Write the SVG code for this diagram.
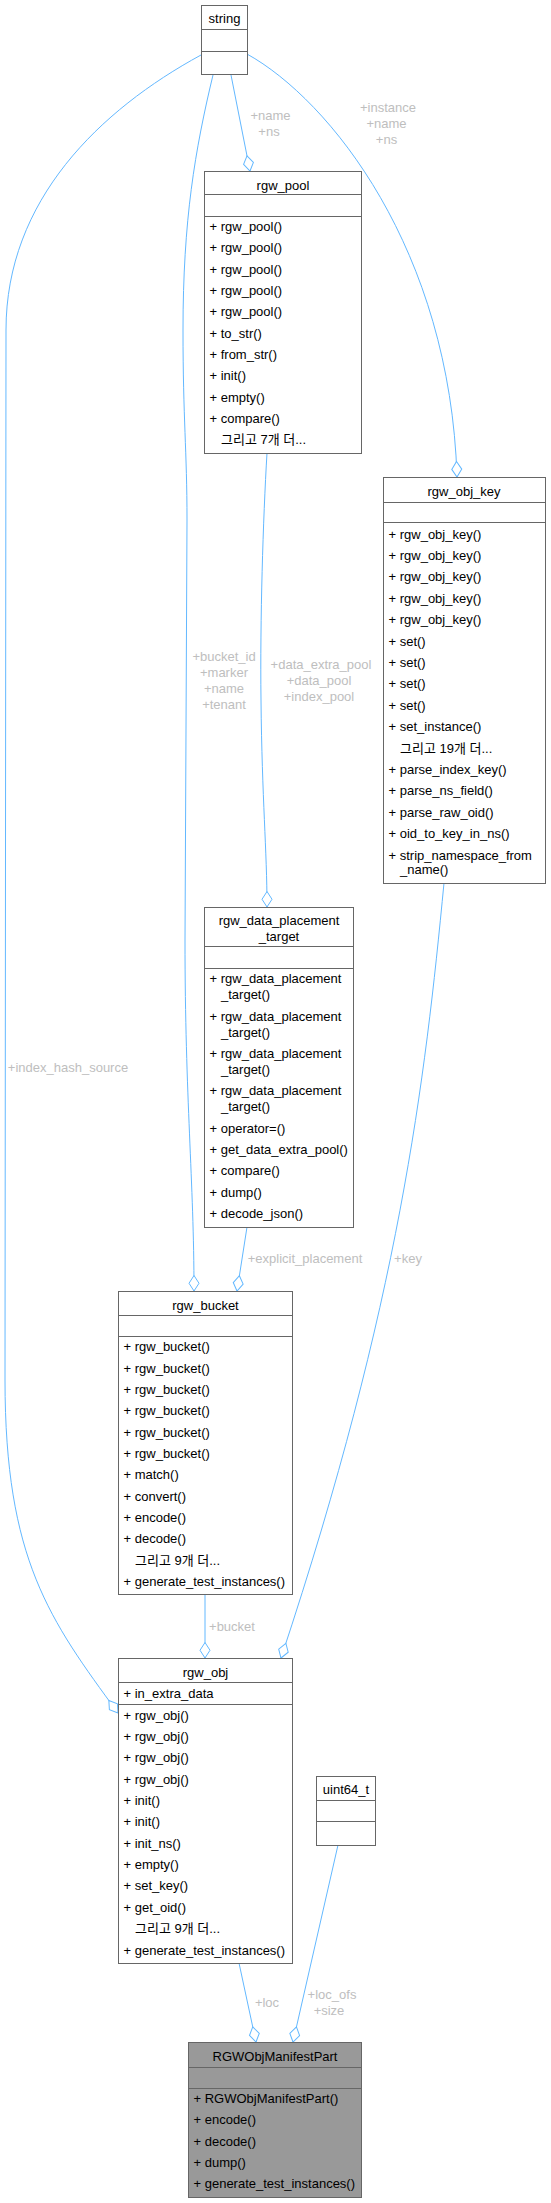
<svg xmlns="http://www.w3.org/2000/svg" width="551" height="2203" viewBox="0 0 551 2203">
<style>
.box{fill:#fff;stroke:#666;stroke-width:1}
.dark{fill:#999;stroke:#666;stroke-width:1}
.sep{stroke:#666;stroke-width:1}
text{font-family:"Liberation Sans",Arial,"Noto Sans CJK KR",sans-serif;font-size:13px;fill:#000}
.c{text-anchor:middle}
.kr{font-family:"Liberation Sans","Noto Sans CJK KR",sans-serif}
.e{fill:none;stroke:#63b8ff;stroke-width:1}
.lbl{fill:#bebebe;text-anchor:middle}
</style>
<defs>
<marker id="dia" markerUnits="userSpaceOnUse" markerWidth="18" markerHeight="12" viewBox="0 -6 18 12" refX="16.5" refY="0" orient="auto">
<path d="M1,0 L8.75,-5 L16.5,0 L8.75,5 Z" fill="#fff" stroke="#63b8ff" stroke-width="1"/>
</marker>
</defs>
<rect width="551" height="2203" fill="#fff"/>
<g id="connectors">
<path class="e" d="M231,75 L250,171" marker-end="url(#dia)"/>
<path class="e" d="M247,54 C330,100 450,250 457,477" marker-end="url(#dia)"/>
<path class="e" d="M213,75 C195,150 183,220 183,330 C183,420 187,450 187,520 L185,940 C185,1100 194,1180 194,1291" marker-end="url(#dia)"/>
<path class="e" d="M201,55 C100,110 6,200 6,330 L5,1380 C5,1560 50,1620 118,1713" marker-end="url(#dia)"/>
<path class="e" d="M267,453 C263,520 260,620 261,700 C262,800 267,850 267,907" marker-end="url(#dia)"/>
<path class="e" d="M444,883 C425,1080 400,1300 281,1658" marker-end="url(#dia)"/>
<path class="e" d="M247,1227 L237,1291" marker-end="url(#dia)"/>
<path class="e" d="M205,1594 L205,1658" marker-end="url(#dia)"/>
<path class="e" d="M239,1963 L256,2042" marker-end="url(#dia)"/>
<path class="e" d="M338,1845 L293,2042" marker-end="url(#dia)"/>
<text class="lbl" x="270.5" y="119.5">+name</text>
<text class="lbl" x="269" y="135.5">+ns</text>
<text class="lbl" x="388" y="111.5">+instance</text>
<text class="lbl" x="386.5" y="127.5">+name</text>
<text class="lbl" x="386.5" y="143.5">+ns</text>
<text class="lbl" x="224" y="661">+bucket_id</text>
<text class="lbl" x="224" y="677">+marker</text>
<text class="lbl" x="224" y="693">+name</text>
<text class="lbl" x="224" y="709">+tenant</text>
<text class="lbl" x="321" y="669">+data_extra_pool</text>
<text class="lbl" x="319" y="685">+data_pool</text>
<text class="lbl" x="319" y="701">+index_pool</text>
<text class="lbl" x="68" y="1071.5">+index_hash_source</text>
<text class="lbl" x="305" y="1262.5">+explicit_placement</text>
<text class="lbl" x="408" y="1262.5">+key</text>
<text class="lbl" x="232" y="1630.5">+bucket</text>
<text class="lbl" x="267" y="2006.8">+loc</text>
<text class="lbl" x="332" y="1998.8">+loc_ofs</text>
<text class="lbl" x="329" y="2014.5">+size</text>
</g>
<g id="string">
<rect class="box" x="201.5" y="5.5" width="46" height="69"/>
<line class="sep" x1="201.5" y1="29.5" x2="247.5" y2="29.5"/>
<line class="sep" x1="201.5" y1="51.5" x2="247.5" y2="51.5"/>
<text class="c" x="224.5" y="23">string</text>
</g>
<g id="rgw_pool">
<rect class="box" x="204.5" y="171.5" width="157" height="282"/>
<line class="sep" x1="204.5" y1="194.5" x2="361.5" y2="194.5"/>
<line class="sep" x1="204.5" y1="216.5" x2="361.5" y2="216.5"/>
<text class="c" x="283" y="189.5">rgw_pool</text>
<text x="209.5" y="231">+ rgw_pool()</text>
<text x="209.5" y="252.3">+ rgw_pool()</text>
<text x="209.5" y="273.7">+ rgw_pool()</text>
<text x="209.5" y="295">+ rgw_pool()</text>
<text x="209.5" y="316.3">+ rgw_pool()</text>
<text x="209.5" y="337.7">+ to_str()</text>
<text x="209.5" y="359">+ from_str()</text>
<text x="209.5" y="380.3">+ init()</text>
<text x="209.5" y="401.7">+ empty()</text>
<text x="209.5" y="423">+ compare()</text>
<text class="kr" x="221" y="444.3">그리고 7개 더...</text>
</g>
<g id="rgw_obj_key">
<rect class="box" x="383.5" y="477.5" width="162" height="406"/>
<line class="sep" x1="383.5" y1="502.5" x2="545.5" y2="502.5"/>
<line class="sep" x1="383.5" y1="522.5" x2="545.5" y2="522.5"/>
<text class="c" x="464" y="495.5">rgw_obj_key</text>
<text x="388.5" y="538.5">+ rgw_obj_key()</text>
<text x="388.5" y="559.9">+ rgw_obj_key()</text>
<text x="388.5" y="581.3">+ rgw_obj_key()</text>
<text x="388.5" y="602.7">+ rgw_obj_key()</text>
<text x="388.5" y="624.1">+ rgw_obj_key()</text>
<text x="388.5" y="645.5">+ set()</text>
<text x="388.5" y="666.9">+ set()</text>
<text x="388.5" y="688.3">+ set()</text>
<text x="388.5" y="709.7">+ set()</text>
<text x="388.5" y="731.1">+ set_instance()</text>
<text class="kr" x="400" y="752.5">그리고 19개 더...</text>
<text x="388.5" y="773.9">+ parse_index_key()</text>
<text x="388.5" y="795.3">+ parse_ns_field()</text>
<text x="388.5" y="816.7">+ parse_raw_oid()</text>
<text x="388.5" y="838.1">+ oid_to_key_in_ns()</text>
<text x="388.5" y="859.5">+ strip_namespace_from</text>
<text x="400" y="874">_name()</text>
</g>
<g id="rgw_data_placement_target">
<rect class="box" x="204.5" y="907.5" width="149" height="320"/>
<line class="sep" x1="204.5" y1="946.5" x2="353.5" y2="946.5"/>
<line class="sep" x1="204.5" y1="968.5" x2="353.5" y2="968.5"/>
<text class="c" x="279" y="925.2">rgw_data_placement</text>
<text class="c" x="279" y="941.2">_target</text>
<text x="209.5" y="983.2">+ rgw_data_placement</text>
<text x="221" y="999.2">_target()</text>
<text x="209.5" y="1021.2">+ rgw_data_placement</text>
<text x="221" y="1037.2">_target()</text>
<text x="209.5" y="1058.2">+ rgw_data_placement</text>
<text x="221" y="1074.2">_target()</text>
<text x="209.5" y="1095.2">+ rgw_data_placement</text>
<text x="221" y="1111.2">_target()</text>
<text x="209.5" y="1133.2">+ operator=()</text>
<text x="209.5" y="1154.2">+ get_data_extra_pool()</text>
<text x="209.5" y="1175.2">+ compare()</text>
<text x="209.5" y="1196.8">+ dump()</text>
<text x="209.5" y="1217.8">+ decode_json()</text>
</g>
<g id="rgw_bucket">
<rect class="box" x="118.5" y="1291.5" width="174" height="303"/>
<line class="sep" x1="118.5" y1="1315.5" x2="292.5" y2="1315.5"/>
<line class="sep" x1="118.5" y1="1336.5" x2="292.5" y2="1336.5"/>
<text class="c" x="205.5" y="1309.5">rgw_bucket</text>
<text x="123.5" y="1351.2">+ rgw_bucket()</text>
<text x="123.5" y="1372.6">+ rgw_bucket()</text>
<text x="123.5" y="1393.9">+ rgw_bucket()</text>
<text x="123.5" y="1415.3">+ rgw_bucket()</text>
<text x="123.5" y="1436.6">+ rgw_bucket()</text>
<text x="123.5" y="1458">+ rgw_bucket()</text>
<text x="123.5" y="1479.4">+ match()</text>
<text x="123.5" y="1500.7">+ convert()</text>
<text x="123.5" y="1522.1">+ encode()</text>
<text x="123.5" y="1543.4">+ decode()</text>
<text class="kr" x="135" y="1564.8">그리고 9개 더...</text>
<text x="123.5" y="1586.2">+ generate_test_instances()</text>
</g>
<g id="rgw_obj">
<rect class="box" x="118.5" y="1658.5" width="174" height="305"/>
<line class="sep" x1="118.5" y1="1682.5" x2="292.5" y2="1682.5"/>
<line class="sep" x1="118.5" y1="1704.5" x2="292.5" y2="1704.5"/>
<text class="c" x="205.5" y="1677.2">rgw_obj</text>
<text x="123.5" y="1697.8">+ in_extra_data</text>
<text x="123.5" y="1719.5">+ rgw_obj()</text>
<text x="123.5" y="1740.9">+ rgw_obj()</text>
<text x="123.5" y="1762.2">+ rgw_obj()</text>
<text x="123.5" y="1783.6">+ rgw_obj()</text>
<text x="123.5" y="1804.9">+ init()</text>
<text x="123.5" y="1826.3">+ init()</text>
<text x="123.5" y="1847.7">+ init_ns()</text>
<text x="123.5" y="1869">+ empty()</text>
<text x="123.5" y="1890.4">+ set_key()</text>
<text x="123.5" y="1911.7">+ get_oid()</text>
<text class="kr" x="135" y="1933.1">그리고 9개 더...</text>
<text x="123.5" y="1954.5">+ generate_test_instances()</text>
</g>
<g id="uint64_t">
<rect class="box" x="316.5" y="1776.5" width="59" height="69"/>
<line class="sep" x1="316.5" y1="1800.5" x2="375.5" y2="1800.5"/>
<line class="sep" x1="316.5" y1="1821.5" x2="375.5" y2="1821.5"/>
<text class="c" x="346" y="1793.8">uint64_t</text>
</g>
<g id="RGWObjManifestPart">
<rect class="dark" x="188.5" y="2042.5" width="173" height="155"/>
<line class="sep" x1="188.5" y1="2067.5" x2="361.5" y2="2067.5"/>
<line class="sep" x1="188.5" y1="2088.5" x2="361.5" y2="2088.5"/>
<text class="c" x="275" y="2061.2">RGWObjManifestPart</text>
<text x="193.5" y="2102.8">+ RGWObjManifestPart()</text>
<text x="193.5" y="2124.2">+ encode()</text>
<text x="193.5" y="2145.5">+ decode()</text>
<text x="193.5" y="2166.9">+ dump()</text>
<text x="193.5" y="2188.2">+ generate_test_instances()</text>
</g>
</svg>
